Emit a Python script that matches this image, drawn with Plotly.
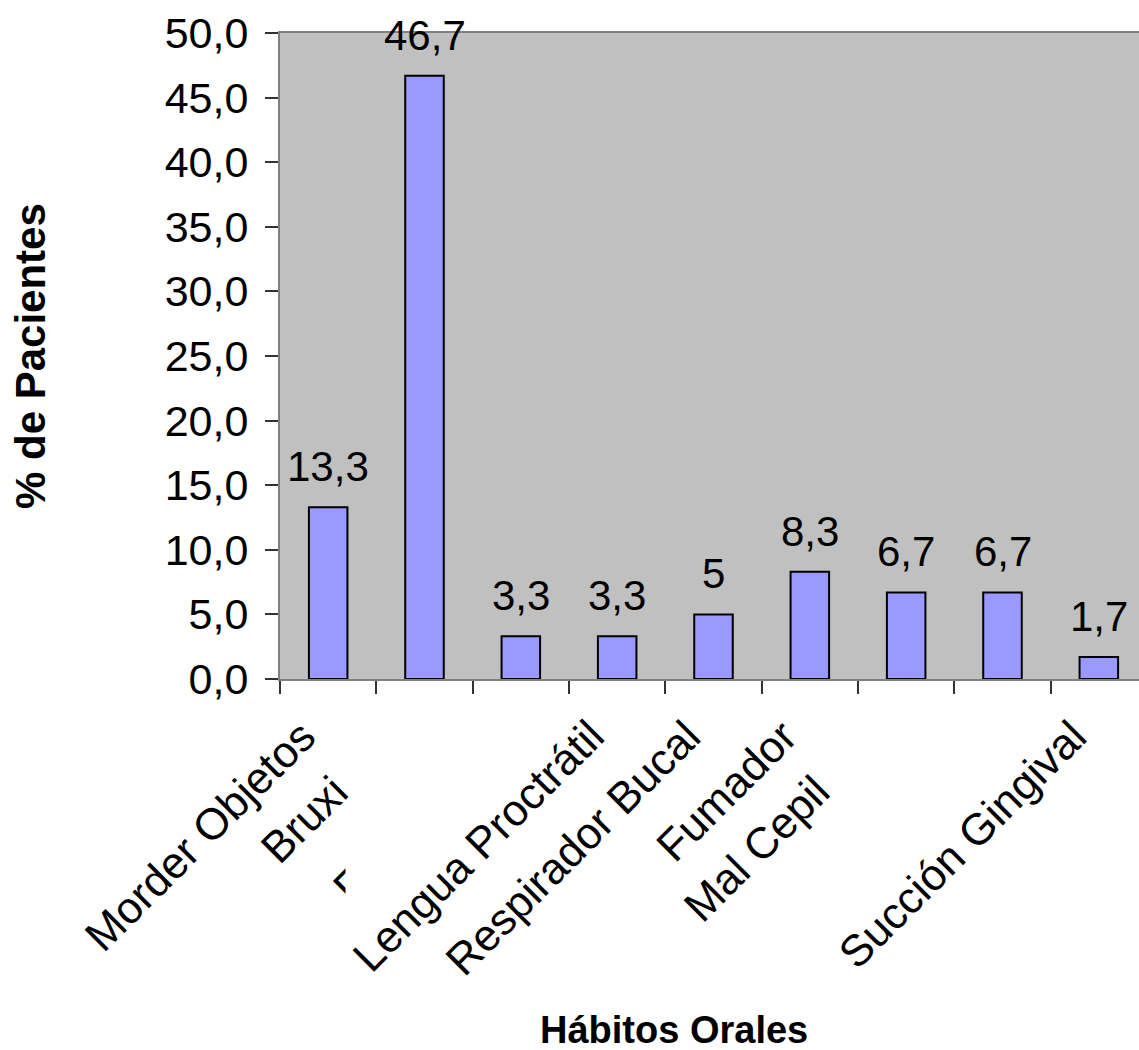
import plotly.graph_objects as go

# ---- data ----
labels = ["Morder Objetos", "Bruxi", "F", "Lengua Proctrátil", "Respirador Bucal",
          "Fumador", "Mal Cepil", "", "Succión Gingival"]
values = [13.3, 46.7, 3.3, 3.3, 5, 8.3, 6.7, 6.7, 1.7]
y_ticks = [0, 5, 10, 15, 20, 25, 30, 35, 40, 45, 50]

FONT = "Liberation Sans, Arial, sans-serif"
x_pos = list(range(len(values)))

fig = go.Figure()
fig.add_trace(go.Bar(
    x=x_pos, y=values, width=0.4,
    marker=dict(color="#9999FF", line=dict(color="#000000", width=2)),
    hoverinfo="skip",
))

ann = []
# value labels
for i, v in enumerate(values):
    ann.append(dict(x=i, y=v, xref="x", yref="y", text=f"{v:g}".replace(".", ","),
                    showarrow=False, xanchor="center", yanchor="bottom", yshift=15,
                    font=dict(family=FONT, size=42, color="#000000")))

# category labels (staggered rows, as in the original)
row = [0, 1, 2, 0, 0, 0, 1, 2, 0]
LBL = dict(family=FONT, size=44, color="#000000")
for i, lab in enumerate(labels):
    if not lab:
        continue
    r = row[i]
    if r == 0:
        ann.append(dict(x=i, y=0, xref="x", yref="paper", text=lab, textangle=-45,
                        showarrow=False, xanchor="right", yanchor="top", xshift=-1, yshift=-29,
                        font=LBL))
    elif r == 1:
        ann.append(dict(x=i, y=0, xref="x", yref="paper", text=lab, textangle=-45,
                        showarrow=False, xanchor="right", yanchor="top", xshift=-65, yshift=-85,
                        font=LBL))
    else:
        ann.append(dict(x=i, y=0, xref="x", yref="paper", text=lab, textangle=-45,
                        showarrow=False, xanchor="left", yanchor="top", xshift=-200, yshift=-176,
                        font=LBL))
        # white mask clipping the fragment
        ann.append(dict(x=i, y=0, xref="x", yref="paper", text=" ", width=40, height=75,
                        bgcolor="#FFFFFF", showarrow=False, xanchor="left", yanchor="top",
                        xshift=-176, yshift=-165))

# axis titles
ann.append(dict(x=0, y=0.5, xref="paper", yref="paper", text="<b>% de Pacientes</b>",
                textangle=-90, showarrow=False, xanchor="center", yanchor="middle", xshift=-250,
                font=dict(family=FONT, size=42, color="#000000")))
ann.append(dict(x=0, y=0, xref="paper", yref="paper", text="<b>Hábitos Orales</b>",
                showarrow=False, xanchor="center", yanchor="middle", xshift=394, yshift=-351,
                font=dict(family=FONT, size=38, color="#000000")))

fig.update_layout(
    width=1139, height=1050,
    margin=dict(l=280, r=0, t=33, b=371),
    paper_bgcolor="#FFFFFF", plot_bgcolor="#C0C0C0",
    separators=",.",
    showlegend=False,
    annotations=ann,
    xaxis=dict(range=[-0.5, 8.417], tick0=-0.5, dtick=1, tickmode="linear",
               showticklabels=False, ticks="outside", ticklen=13, tickwidth=1.5, tickcolor="#333333",
               showline=True, linecolor="#808080", linewidth=2, mirror=True,
               showgrid=False, zeroline=False, fixedrange=True),
    yaxis=dict(range=[0, 50], tickvals=y_ticks, tickformat=".1f",
               ticks="outside", ticklen=13, tickwidth=1.5, tickcolor="#333333",
               tickfont=dict(family=FONT, size=43, color="#000000"), ticklabelstandoff=8,
               showline=True, linecolor="#808080", linewidth=2,
               showgrid=False, zeroline=False, fixedrange=True),
)

fig.write_html("out.html", config={"displayModeBar": False})
